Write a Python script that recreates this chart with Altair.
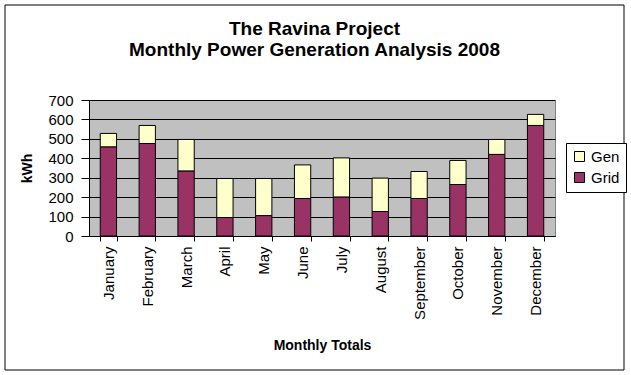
import altair as alt
import pandas as pd

title_lines = ["The Ravina Project", "Monthly Power Generation Analysis 2008"]
months = ["January", "February", "March", "April", "May", "June", "July",
          "August", "September", "October", "November", "December"]
grid = [459, 476, 335, 95, 105, 193, 201, 126, 193, 265, 420, 569]
gen = [69, 93, 162, 201, 191, 173, 201, 172, 139, 124, 77, 57]
series = ["Gen", "Grid"]
colors = ["#FFFFCC", "#993366"]
y_ticks = [0, 100, 200, 300, 400, 500, 600, 700]

rows = []
for m, g, s in zip(months, grid, gen):
    rows.append({"month": m, "series": "Grid", "value": g, "ord": 0})
    rows.append({"month": m, "series": "Gen", "value": s, "ord": 1})
df = pd.DataFrame(rows)

FONT = "Liberation Sans"

bars = alt.Chart(df).mark_bar(stroke="black", strokeWidth=1).encode(
    x=alt.X("month:N", sort=months,
            scale=alt.Scale(paddingInner=0.58, paddingOuter=0.29),
            axis=alt.Axis(title="Monthly Totals", labelAngle=-90, tickBand="extent",
                          tickSize=5, labelPadding=5, labelFontSize=15,
                          titleFontSize=14, titleFontWeight="bold",
                          titleY=113, titleBaseline="alphabetic")),
    y=alt.Y("value:Q", stack="zero",
            scale=alt.Scale(domain=[0, 700], nice=False),
            axis=alt.Axis(title="kWh", values=y_ticks, grid=True, gridColor="black",
                          gridOpacity=1, tickSize=8, labelPadding=8, labelFontSize=15,
                          titleFontSize=14, titleFontWeight="bold",
                          titleX=-55, titleY=68, titleAngle=-90, titleBaseline="bottom",
                          titleAlign="center")),
    color=alt.Color("series:N", scale=alt.Scale(domain=series, range=colors),
                    legend=alt.Legend(title=None, orient="none", legendX=477, legendY=43,
                                      strokeColor="black", fillColor="white", padding=6,
                                      symbolType="square", symbolSize=100,
                                      symbolStrokeColor="black", symbolStrokeWidth=1,
                                      symbolOpacity=1, labelFontSize=15, labelFont=FONT,
                                      rowPadding=5)),
    order=alt.Order("ord:Q"),
)

frame = alt.Chart(alt.Data(values=[{}])).mark_rect(filled=False, stroke="black", strokeWidth=1).encode(
    x=alt.value(-84), x2=alt.value(535), y=alt.value(-95), y2=alt.value(270)
)

title1 = alt.Chart(alt.Data(values=[{"t": title_lines[0]}])).mark_text(
    font=FONT, fontSize=19, fontWeight="bold", color="black", align="center", baseline="alphabetic"
).encode(text="t:N", x=alt.value(225.5), y=alt.value(-65))

title2 = alt.Chart(alt.Data(values=[{"t": title_lines[1]}])).mark_text(
    font=FONT, fontSize=19, fontWeight="bold", color="black", align="center", baseline="alphabetic"
).encode(text="t:N", x=alt.value(225.5), y=alt.value(-44))

chart = alt.layer(frame, title1, title2, bars).properties(
    width=466, height=136,
    autosize="none",
    padding={"left": 89, "top": 100, "right": 76, "bottom": 139},
    background="white",
).configure_view(fill="#C0C0C0", stroke="#808080").configure_axis(
    domainColor="black", tickColor="black", labelColor="black", titleColor="black",
    labelFont=FONT, titleFont=FONT
)

chart.save("out.html", embed_options={"renderer": "svg", "actions": False})
